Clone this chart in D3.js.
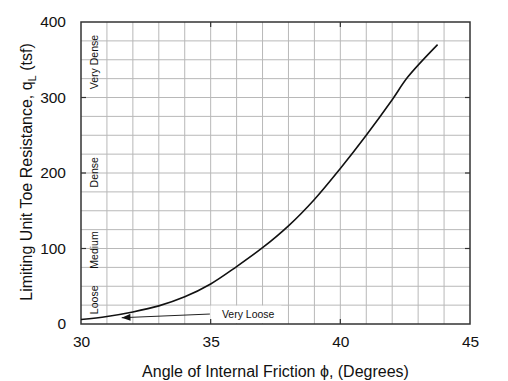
<!DOCTYPE html>
<html>
<head>
<meta charset="utf-8">
<script src="https://cdn.jsdelivr.net/npm/d3@7"></script>
<style>
  html, body { margin: 0; padding: 0; background: #fff; }
  svg { display: block; font-family: "Liberation Sans", Arial, Helvetica, sans-serif; }
</style>
</head>
<body>
<svg id="chart" width="508" height="381"></svg>
<script>
// ---- data ----
const phiDeg = [30, 31, 32, 33, 34, 35, 36, 37, 38, 39, 40, 41, 42, 42.6, 43.75];
const qLimit = [6, 10, 16, 24, 36, 53, 76, 101, 130, 165, 206, 250, 297, 327, 370];
const xTickValues = [30, 35, 40, 45];
const yTickValues = [0, 100, 200, 300, 400];
const densityLabels = ["Very Dense", "Dense", "Medium", "Loose"];
const densityLabelAt = [347, 201, 98, 32];
const annotationText = "Very Loose";
const annotationFrom = [34.97, 13.2];
const annotationTo = [31.57, 8.3];

// ---- layout ----
const svg = d3.select("#chart");
const L = 81, R = 470, T = 22, B = 324;
const x = d3.scaleLinear().domain([30, 45]).range([L, R]);
const y = d3.scaleLinear().domain([0, 400]).range([B, T]);

// grid
const grid = svg.append("g").attr("stroke", "#b8b8b8").attr("stroke-width", 1);
grid.selectAll("line.v").data(d3.range(31, 45, 1)).join("line")
  .attr("x1", d => x(d)).attr("x2", d => x(d)).attr("y1", T).attr("y2", B);
grid.selectAll("line.h").data(d3.range(25, 400, 25)).join("line")
  .attr("y1", d => y(d)).attr("y2", d => y(d)).attr("x1", L).attr("x2", R);

// white box behind "Very Loose"
svg.append("rect")
  .attr("x", x(annotationFrom[0]) + 0.5).attr("y", y(25) + 0.5)
  .attr("width", 71).attr("height", B - y(25) - 1.2)
  .attr("fill", "#fff");

// axes via d3 axis generators (tick labels)
const xAxis = svg.append("g").attr("transform", `translate(0,${B})`)
  .call(d3.axisBottom(x).tickValues(xTickValues).tickSize(0).tickPadding(12));
xAxis.select(".domain").remove();
xAxis.selectAll("text").attr("font-size", 15.5).attr("fill", "#111")
  .attr("font-family", "Liberation Sans, Arial, sans-serif");

const yAxis = svg.append("g").attr("transform", `translate(${L},0)`)
  .call(d3.axisLeft(y).tickValues(yTickValues).tickSize(0).tickPadding(15));
yAxis.select(".domain").remove();
yAxis.selectAll("text").attr("font-size", 15.5).attr("fill", "#111")
  .attr("font-family", "Liberation Sans, Arial, sans-serif");

// inner ticks
const tk = svg.append("g").attr("stroke", "#333").attr("stroke-width", 1.2);
[35, 40].forEach(v => {
  tk.append("line").attr("x1", x(v)).attr("x2", x(v)).attr("y1", B).attr("y2", B - 5);
  tk.append("line").attr("x1", x(v)).attr("x2", x(v)).attr("y1", T).attr("y2", T + 5);
});
[100, 200, 300].forEach(v => {
  tk.append("line").attr("y1", y(v)).attr("y2", y(v)).attr("x1", L).attr("x2", L + 5);
  tk.append("line").attr("y1", y(v)).attr("y2", y(v)).attr("x1", R).attr("x2", R - 5);
});

// frame
svg.append("rect").attr("x", L).attr("y", T).attr("width", R - L).attr("height", B - T)
  .attr("fill", "none").attr("stroke", "#333").attr("stroke-width", 1.5);

// curve
const line = d3.line().x((d, i) => x(phiDeg[i])).y((d, i) => y(qLimit[i]))
  .curve(d3.curveCatmullRom.alpha(0.5));
svg.append("path").datum(qLimit).attr("d", line)
  .attr("fill", "none").attr("stroke", "#111").attr("stroke-width", 1.6);

// density labels (rotated)
svg.selectAll("text.dens").data(densityLabels).join("text")
  .attr("class", "dens")
  .attr("transform", (d, i) => `translate(94,${y(densityLabelAt[i])}) rotate(-90)`)
  .attr("text-anchor", "middle").attr("dominant-baseline", "central")
  .attr("font-size", 10.5).attr("fill", "#111").text(d => d);

// annotation
svg.append("text").attr("x", x(annotationFrom[0]) + 12).attr("y", 318)
  .attr("font-size", 10.5).attr("fill", "#111").text(annotationText);
svg.append("defs").append("marker").attr("id", "arr")
  .attr("viewBox", "0 0 10 8").attr("refX", 10).attr("refY", 4)
  .attr("markerWidth", 10).attr("markerHeight", 7).attr("markerUnits", "userSpaceOnUse")
  .attr("orient", "auto")
  .append("path").attr("d", "M0,0 L10,4 L0,8 Z").attr("fill", "#111");
svg.append("line")
  .attr("x1", x(annotationFrom[0])).attr("y1", y(annotationFrom[1]))
  .attr("x2", x(annotationTo[0])).attr("y2", y(annotationTo[1]))
  .attr("stroke", "#222").attr("stroke-width", 1)
  .attr("marker-end", "url(#arr)");

// axis titles
svg.append("text").attr("x", (L + R) / 2).attr("y", 377)
  .attr("text-anchor", "middle").attr("font-size", 16).attr("fill", "#111")
  .text("Angle of Internal Friction \u03D5, (Degrees)");

const yt = svg.append("text").attr("transform", `translate(32,${(T + B) / 2 - 1}) rotate(-90)`)
  .attr("text-anchor", "middle").attr("font-size", 16).attr("fill", "#111");
yt.append("tspan").text("Limiting Unit Toe Resistance, q");
yt.append("tspan").attr("font-size", 11).attr("dy", 4).text("L");
yt.append("tspan").attr("dy", -4).text(" (tsf)");
</script>
</body>
</html>
